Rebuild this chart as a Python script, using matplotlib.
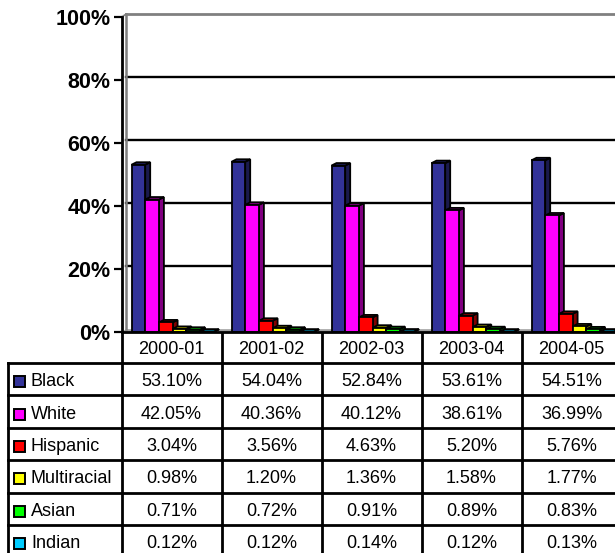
import matplotlib
matplotlib.use("Agg")
import matplotlib.pyplot as plt
from matplotlib.patches import Polygon, Rectangle

# ---------------- data ----------------
categories = ["2000-01", "2001-02", "2002-03", "2003-04", "2004-05"]
series_names = ["Black", "White", "Hispanic", "Multiracial", "Asian", "Indian"]
black = [53.10, 54.04, 52.84, 53.61, 54.51]
white = [42.05, 40.36, 40.12, 38.61, 36.99]
hispanic = [3.04, 3.56, 4.63, 5.20, 5.76]
multiracial = [0.98, 1.20, 1.36, 1.58, 1.77]
asian = [0.71, 0.72, 0.91, 0.89, 0.83]
indian = [0.12, 0.12, 0.14, 0.12, 0.13]
y_ticks = [0, 20, 40, 60, 80, 100]
series_values = [black, white, hispanic, multiracial, asian, indian]

# ---------------- style ----------------
front_colors = ["#333399", "#FF00FF", "#FF0000", "#FFFF00", "#00FF00", "#00CCFF"]
side_colors = ["#1a1a4d", "#800080", "#800000", "#808000", "#008000", "#006680"]
top_colors = ["#22226b", "#990099", "#990000", "#999900", "#009900", "#007a99"]
FONT = "Liberation Sans"

W, H = 615, 553
fig = plt.figure(figsize=(W / 100, H / 100), dpi=100)

# layout in pixels
x0_px = 121.5      # category axis start
cat_px = 100.0     # width of a category
y0_px = 332.0      # floor (0 %)
y100_px = 17.0     # 100 %
px_per_pct = (y0_px - y100_px) / 100.0
n_cat = len(categories)
n_ser = len(series_names)

# ---------------- table (pixel coords axes) ----------------
tax = fig.add_axes([0, 0, 1, 1])
tax.set_xlim(0, W)
tax.set_ylim(H, 0)
tax.axis("off")
tax.patch.set_alpha(0)

tab_left = 8.0
header_bottom = 363.0
row_h = 32.4
lw_tab = 2.0

# vertical lines
for k in range(n_cat + 1):
    xl = x0_px + k * cat_px
    tax.plot([xl, xl], [y0_px, H + 5], color="black", lw=lw_tab, solid_capstyle="butt")
tax.plot([tab_left, tab_left], [header_bottom, H + 5], color="black", lw=lw_tab)
# horizontal lines
for r in range(n_ser + 1):
    yl = header_bottom + r * row_h
    tax.plot([tab_left, W + 5], [yl, yl], color="black", lw=lw_tab)

# header text
for k, c in enumerate(categories):
    tax.text(x0_px + (k + 0.5) * cat_px, (y0_px + header_bottom) / 2 + 1.5, c,
             ha="center", va="center", fontsize=13, family=FONT)

# rows
for r, (name, vals) in enumerate(zip(series_names, series_values)):
    yc = header_bottom + (r + 0.5) * row_h + 2.5
    tax.add_patch(Rectangle((14, yc - 5.5), 11, 11, facecolor=front_colors[r],
                            edgecolor="black", lw=1.4))
    tax.text(31, yc, name, ha="left", va="center", fontsize=13, family=FONT)
    for k, v in enumerate(vals):
        tax.text(x0_px + (k + 0.5) * cat_px, yc, f"{v:.2f}%",
                 ha="center", va="center", fontsize=13, family=FONT)

# ---------------- chart ----------------
ax = fig.add_axes([x0_px / W, (H - y0_px) / H, (W - x0_px) / W, (y0_px - y100_px) / H])
xmax = (W - x0_px) / cat_px
ax.set_xlim(0, xmax)
ax.set_ylim(0, 100)
ax.patch.set_alpha(0)

wall_dx = 4.5 / cat_px
wall_dy = 2.8 / px_per_pct
bar_dx = 5.0 / cat_px
bar_dy = 2.5 / px_per_pct
start = 0.10
pitch = 0.137
lw_bar = 1.3

# floor
ax.add_patch(Polygon([(0, 0), (wall_dx, wall_dy), (xmax + 1, wall_dy), (xmax + 1, 0)],
                     closed=True, facecolor="#a0a0a0", edgecolor="none", zorder=1))
# back-wall gridlines
for t in y_ticks[1:-1]:
    ax.plot([wall_dx, xmax + 1], [t + wall_dy, t + wall_dy], color="black", lw=1.7, zorder=1)
# wall borders (grey)
ax.plot([wall_dx, wall_dx], [wall_dy, 100 + wall_dy], color="#808080", lw=1.8, zorder=1, clip_on=False)
ax.plot([wall_dx, xmax + 1], [100 + wall_dy, 100 + wall_dy], color="#808080", lw=2.0, zorder=1, clip_on=False)
ax.plot([0, wall_dx], [100, 100 + wall_dy], color="#808080", lw=1.2, zorder=1, clip_on=False)

# 3D bars
z = 2
for j in range(n_cat):
    for i in range(n_ser):
        v = series_values[i][j]
        xl = j + start + i * pitch
        xr = xl + pitch
        side = Polygon([(xr, 0), (xr + bar_dx, bar_dy), (xr + bar_dx, v + bar_dy), (xr, v)],
                       closed=True, facecolor=side_colors[i], edgecolor="black", lw=lw_bar,
                       joinstyle="miter", zorder=z)
        top = Polygon([(xl, v), (xl + bar_dx, v + bar_dy), (xr + bar_dx, v + bar_dy), (xr, v)],
                      closed=True, facecolor=top_colors[i], edgecolor="black", lw=lw_bar,
                      joinstyle="miter", zorder=z)
        ax.add_patch(side)
        ax.add_patch(top)
        ax.bar([xl], [v], width=pitch, align="edge", color=front_colors[i],
               edgecolor="black", linewidth=lw_bar, zorder=z + 0.5)
        z += 1

# floor front line
ax.plot([0, xmax + 1], [0, 0], color="black", lw=2.0, zorder=z + 1, clip_on=False)

for s in ["top", "right", "bottom"]:
    ax.spines[s].set_visible(False)
ax.spines["left"].set_linewidth(2.0)
ax.spines["left"].set_zorder(z + 2)
ax.set_xticks([])
ax.set_yticks(y_ticks)
ax.set_yticklabels([f"{t}%" for t in y_ticks], fontsize=15.5, fontweight="bold", family=FONT)
ax.tick_params(axis="y", direction="out", length=6, width=1.6, pad=2)

fig.savefig("out.png", dpi=100)
